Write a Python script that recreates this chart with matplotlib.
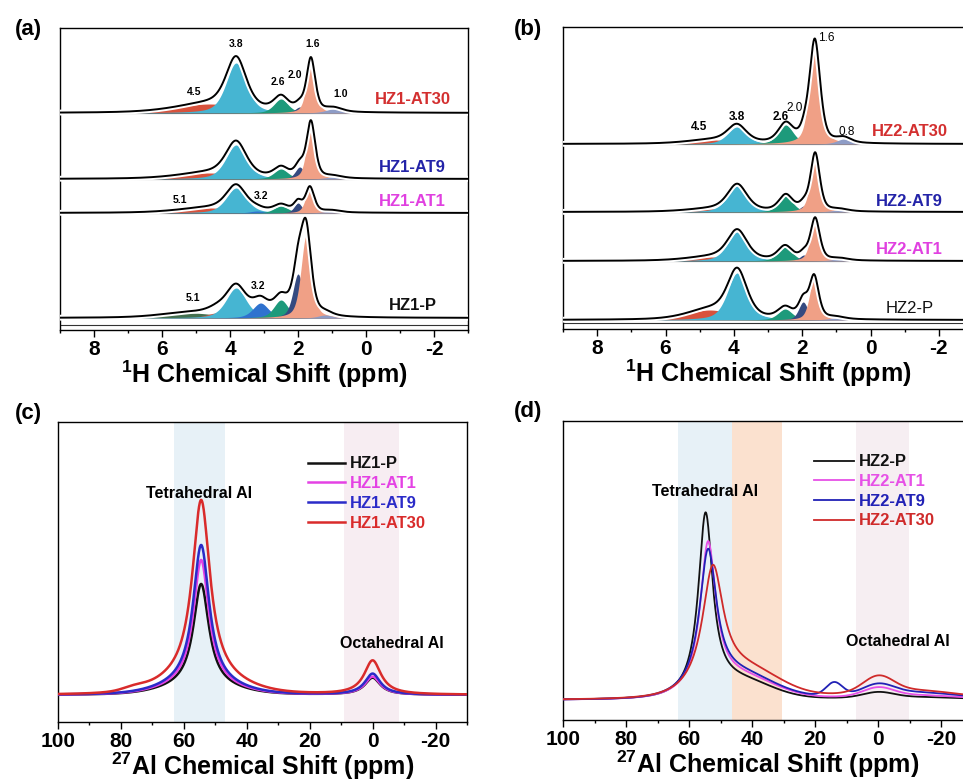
import numpy as np
import matplotlib
matplotlib.use("Agg")
import matplotlib.pyplot as plt
import matplotlib.patheffects as pe

plt.rcParams['font.family'] = ['Liberation Sans', 'DejaVu Sans']
plt.rcParams['font.weight'] = 'bold'
plt.rcParams['mathtext.default'] = 'regular'
plt.rcParams['axes.unicode_minus'] = False

# ---- 1H MAS NMR deconvolution (panels a, b) ----
kinds = ['5.1', '4.5', '3.8', '3.2', '2.6', '2.0', '1.6', '1.0']
kind_colors = ['#44704f', '#d8523c', '#46b5d2', '#2f72cf', '#1d9a7b',
               '#354a80', '#f0a086', '#8e9cc6']

hz1_names = ['HZ1-P', 'HZ1-AT1', 'HZ1-AT9', 'HZ1-AT30']
hz1_center = [[5.2, 4.4, 3.82, 3.1, 2.5, 2.0, 1.76, 1.2],
              [5.1, 4.6, 3.82, 3.2, 2.5, 2.0, 1.65, 1.0],
              [5.1, 4.6, 3.82, 3.2, 2.5, 1.95, 1.62, 0.95],
              [5.1, 4.6, 3.82, 3.2, 2.5, 1.95, 1.62, 0.95]]
hz1_height = [[5, 5, 30, 15, 18, 44, 82, 3],
              [0, 5, 25, 2, 7, 10, 25, 2],
              [0, 6, 34, 0, 10, 12, 56, 2],
              [0, 9, 50, 0, 14, 6, 53, 4]]
hz1_width = [[2.0, 0.7, 0.7, 0.55, 0.5, 0.36, 0.36, 0.5],
             [1.0, 2.2, 0.7, 0.5, 0.5, 0.28, 0.3, 0.6],
             [1.0, 2.2, 0.72, 0.5, 0.5, 0.32, 0.3, 0.6],
             [1.0, 2.4, 0.7, 0.5, 0.5, 0.32, 0.3, 0.6]]

hz2_names = ['HZ2-P', 'HZ2-AT1', 'HZ2-AT9', 'HZ2-AT30']
hz2_center = [[5.1, 4.7, 3.9, 3.2, 2.5, 1.97, 1.65, 1.0],
              [5.1, 4.6, 3.9, 3.2, 2.5, 1.95, 1.62, 0.9],
              [5.1, 4.6, 3.9, 3.2, 2.48, 1.95, 1.62, 0.9],
              [5.1, 4.6, 3.91, 3.2, 2.48, 1.93, 1.63, 0.78]]
hz2_height = [[0, 10, 47, 0, 11, 18, 42, 2],
              [0, 4, 29, 0, 14, 6, 42, 2],
              [0, 3, 26, 0, 16, 6, 58, 2],
              [0, 4, 17, 0, 19, 9, 103, 5]]
hz2_width = [[1.0, 1.6, 0.68, 0.5, 0.5, 0.32, 0.32, 0.6],
             [1.0, 1.8, 0.68, 0.5, 0.5, 0.3, 0.32, 0.6],
             [1.0, 1.8, 0.68, 0.5, 0.48, 0.3, 0.32, 0.6],
             [1.0, 1.8, 0.65, 0.5, 0.52, 0.3, 0.37, 0.5]]

sample_colors = ['#111111', '#e040e0', '#2323a8', '#d32f2f']

# peak annotations: (text, ppm, height)
hz1_peak_labels = [('4.5', 5.06, 238), ('3.8', 3.82, 286), ('2.6', 2.59, 248),
                   ('2.0', 2.09, 255), ('1.6', 1.56, 286), ('1.0', 0.76, 236),
                   ('5.1', 5.47, 130), ('3.2', 3.09, 134),
                   ('5.1', 5.09, 32), ('3.2', 3.18, 44)]
hz2_peak_labels = [('4.5', 5.02, 202), ('3.8', 3.91, 212), ('2.6', 2.63, 212),
                   ('2.0', 2.22, 221), ('1.6', 1.28, 291), ('0.8', 0.70, 197)]

# ---- 27Al MAS NMR (panels c, d): line components ----
hz1_al_tet_h = [103, 126, 140, 180]
hz1_al_tet_w = [6.0, 6.0, 6.2, 6.8]
hz1_al_broad_h = [8, 9, 10, 15]
hz1_al_oct_h = [17, 18, 21, 34]

hz2_al_tet_c = [54.8, 54.0, 54.0, 52.5]
hz2_al_tet_h = [178, 145, 136, 118]
hz2_al_tet_w = [5.5, 6.0, 6.5, 8.0]
hz2_al_tail_h = [17, 21, 23, 27]
hz2_al_oct_h = [5, 8, 9, 15]
hz2_al_wide_h = [3, 5, 8, 10]
hz2_al_bump14_h = [0, 0, 13, 0]


def pvoigt(x, c, h, w, eta=0.5):
    r = (x - c) / (w / 2)
    return h * (eta / (1 + r ** 2) + (1 - eta) * np.exp(-np.log(2) * r ** 2))


def gauss(x, c, h, w):
    return h * np.exp(-4 * np.log(2) * ((x - c) / w) ** 2)


def lorentz(x, c, h, w):
    return h / (1 + ((x - c) / (w / 2)) ** 2)


fig = plt.figure(figsize=(9.63, 7.83), dpi=100)
W, H = 963, 783


def add_axes_px(left, top, width, height):
    return fig.add_axes([left / W, 1 - (top + height) / H, width / W, height / H])


def style_axis(ax, major, minor):
    ax.set_yticks([])
    ax.set_xticks(major)
    ax.set_xticks(minor, minor=True)
    ax.tick_params(axis='x', which='major', direction='out', length=5, width=1,
                   labelsize=15, pad=2)
    ax.tick_params(axis='x', which='minor', direction='out', length=2.5, width=1)
    for s in ax.spines.values():
        s.set_linewidth(1.0)
    for lbl in ax.get_xticklabels():
        lbl.set_fontweight('bold')


def draw_h1(ax, centers, heights, widths, offsets, names, seps, name_x, name_y,
            p_weight):
    x = np.linspace(9, -3, 1500)
    for i in range(len(names)):
        total = np.zeros_like(x)
        for k in range(len(kinds)):
            if heights[i][k] <= 0:
                continue
            comp = pvoigt(x, centers[i][k], heights[i][k], widths[i][k])
            total += comp
            ax.fill_between(x, offsets[i], offsets[i] + comp, color=kind_colors[k],
                            lw=0, zorder=2 + k * 0.01)
        ax.axhline(seps[i], color='#333333', lw=0.8, zorder=1)
        ax.plot(x, offsets[i] + total, color='black', lw=1.4, zorder=4,
                path_effects=[pe.Stroke(linewidth=4.2, foreground='white'), pe.Normal()])
        ax.text(name_x, name_y[i], names[i], color=sample_colors[i], fontsize=12,
                fontweight=p_weight if i == 0 else 'bold', ha='center', va='center',
                zorder=5)
    ax.set_xlim(9, -3)
    ax.set_ylim(0, 302)
    style_axis(ax, [8, 6, 4, 2, 0, -2], [9, 7, 5, 3, 1, -1, -3])
    ax.set_xlabel(r'$^{1}$H Chemical Shift (ppm)', fontsize=18, fontweight='bold',
                  labelpad=0)


# panel (a)
ax_a = add_axes_px(60, 28, 408, 302)
draw_h1(ax_a, hz1_center, hz1_height, hz1_width, [12, 117, 151, 217], hz1_names,
        [5, 117, 151, 217], -1.37, [25, 129, 163, 230], 'bold')
for t, px, py in hz1_peak_labels:
    ax_a.text(px, py, t, fontsize=7.5, fontweight='bold', ha='center', va='center', zorder=6)

# panel (b)
ax_b = add_axes_px(563, 27, 410, 302)
draw_h1(ax_b, hz2_center, hz2_height, hz2_width, [9, 68, 117, 185], hz2_names,
        [6, 68, 117, 185], -1.15, [21, 79, 128, 197], 'normal')
for t, px, py in hz2_peak_labels:
    w = 'bold' if t in ('4.5', '3.8', '2.6') else 'normal'
    ax_b.text(px, py, t, fontsize=8.5, fontweight=w, ha='center', va='center', zorder=6)

# panel (c)
al_x = np.linspace(100, -30, 1500)
ax_c = add_axes_px(58, 422, 409, 300)
ax_c.axvspan(63, 47, color='#e7f1f7', lw=0, zorder=0)
ax_c.axvspan(9, -8.3, color='#f7edf2', lw=0, zorder=0)
c_colors = ['#111111', '#e442e4', '#2b2bc8', '#d92b2b']
for i, name in enumerate(hz1_names):
    y = (lorentz(al_x, 54.5, hz1_al_tet_h[i], hz1_al_tet_w[i])
         + gauss(al_x, 55, hz1_al_broad_h[i], 25 if i < 3 else 28)
         + lorentz(al_x, 0, hz1_al_oct_h[i], 6 if i < 3 else 6.5))
    if i == 3:
        y = y + gauss(al_x, 76, 2.5, 8)
    ax_c.plot(al_x, y, color=c_colors[i], lw=1.8, label=name, zorder=2 + i)
ax_c.set_xlim(100, -30)
ax_c.set_ylim(-27, 273)
style_axis(ax_c, [100, 80, 60, 40, 20, 0, -20], [90, 70, 50, 30, 10, -10, -30])
ax_c.set_xlabel(r'$^{27}$Al Chemical Shift (ppm)', fontsize=18, fontweight='bold',
                labelpad=0)
ax_c.text(55.2, 201, 'Tetrahedral Al', fontsize=11.5, ha='center', va='center')
ax_c.text(-6.2, 51, 'Octahedral Al', fontsize=11.5, ha='center', va='center')
ax_c.legend(loc='upper left', bbox_to_anchor=(0.611, 0.885), frameon=False,
            handlelength=2.2, handletextpad=0.3, labelspacing=0.28,
            borderpad=0, borderaxespad=0, labelcolor='linecolor',
            prop={'weight': 'bold', 'size': 12})

# panel (d)
ax_d = add_axes_px(563, 421, 410, 299)
ax_d.axvspan(63.5, 46.3, color='#e7f1f7', lw=0, zorder=0)
ax_d.axvspan(46.3, 30.5, color='#fbe1cf', lw=0, zorder=0)
ax_d.axvspan(7, -9.8, color='#f6eef2', lw=0, zorder=0)
d_colors = ['#111111', '#e650e6', '#2121b5', '#cf2a2a']
for i, name in enumerate(hz2_names):
    y = (lorentz(al_x, hz2_al_tet_c[i], hz2_al_tet_h[i], hz2_al_tet_w[i])
         + gauss(al_x, 44 if i < 3 else 42, hz2_al_tail_h[i], 24 if i == 0 else 26)
         + gauss(al_x, 0, hz2_al_oct_h[i], 11)
         + gauss(al_x, -8, hz2_al_wide_h[i], 40)
         + gauss(al_x, 14, hz2_al_bump14_h[i], 6))
    ax_d.plot(al_x, y, color=d_colors[i], lw=1.3, label=name, zorder=2 + i)
ax_d.set_xlim(100, -30)
ax_d.set_ylim(-20, 279)
style_axis(ax_d, [100, 80, 60, 40, 20, 0, -20], [90, 70, 50, 30, 10, -10, -30])
ax_d.set_xlabel(r'$^{27}$Al Chemical Shift (ppm)', fontsize=18, fontweight='bold',
                labelpad=0)
ax_d.text(54.9, 208, 'Tetrahedral Al', fontsize=11.5, ha='center', va='center')
ax_d.text(-6.3, 58, 'Octahedral Al', fontsize=11.5, ha='center', va='center')
ax_d.legend(loc='upper left', bbox_to_anchor=(0.613, 0.888), frameon=False,
            handlelength=2.4, handletextpad=0.3, labelspacing=0.28,
            borderpad=0, borderaxespad=0, labelcolor='linecolor',
            prop={'weight': 'bold', 'size': 12})

for lbl, (fx, fy) in zip(['(a)', '(b)', '(c)', '(d)'],
                         [(28, 30), (528, 30), (28, 413), (528, 412)]):
    fig.text(fx / W, 1 - fy / H, lbl, fontsize=16, fontweight='bold',
             ha='center', va='center')

fig.savefig('out.png', dpi=100)
